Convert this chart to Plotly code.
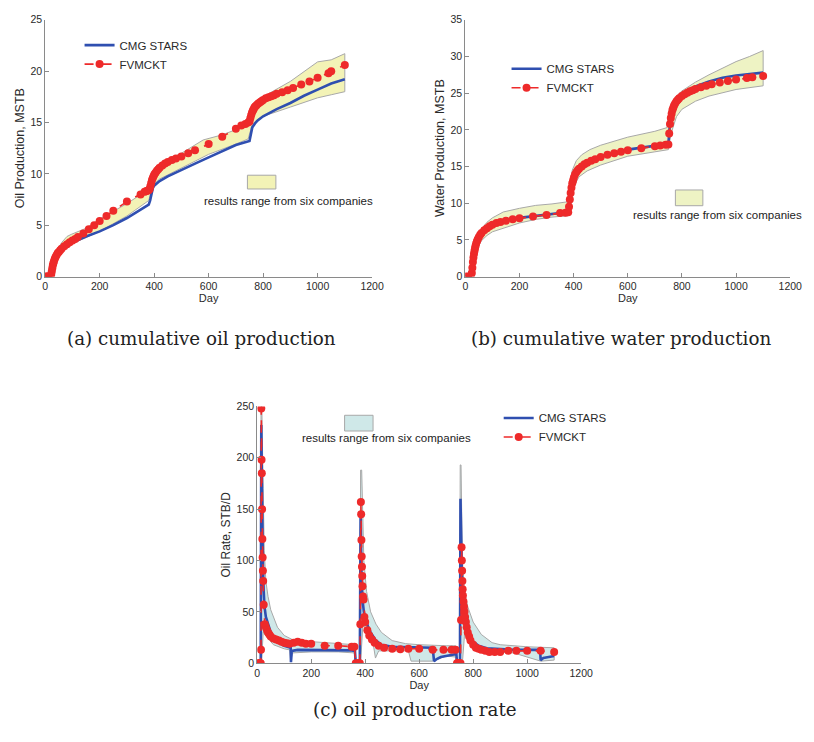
import plotly.graph_objects as go

W, H = 814, 742

# ---------------- (a) cumulative oil production (MSTB) ----------------
a_fv_day = [0, 5, 10, 15, 20, 22, 24, 26, 28, 30, 32, 35, 38, 42, 46, 50, 55, 60, 70, 80, 90, 100,
            110, 120, 140, 160, 180, 200, 225, 250, 300, 350, 365, 370, 375, 380, 383, 386, 389,
            392, 395, 398, 401, 405, 410, 415, 420, 430, 440, 450, 465, 480, 500, 525, 550, 600,
            650, 700, 720, 735, 745, 750, 753, 756, 759, 762, 765, 768, 771, 775, 780, 785, 790,
            795, 800, 810, 820, 830, 840, 850, 870, 890, 910, 940, 970, 1000, 1040, 1050, 1100]
a_fv_val = [0, 0, 0, 0, 0, 0.2, 0.5, 0.8, 1.1, 1.3, 1.5, 1.7, 1.9, 2.1, 2.3, 2.4, 2.55, 2.7, 2.95,
            3.15, 3.35, 3.5, 3.65, 3.85, 4.2, 4.6, 5.0, 5.4, 5.9, 6.4, 7.3, 8.0, 8.25, 8.3, 8.35,
            8.4, 8.5, 8.8, 9.1, 9.4, 9.6, 9.8, 9.95, 10.1, 10.3, 10.45, 10.6, 10.8, 11.0, 11.15,
            11.35, 11.5, 11.7, 12.0, 12.3, 12.9, 13.6, 14.4, 14.7, 14.85, 15.0, 15.1, 15.4, 15.7,
            15.95, 16.15, 16.3, 16.45, 16.55, 16.65, 16.8, 16.9, 17.0, 17.1, 17.2, 17.35, 17.45,
            17.55, 17.65, 17.8, 17.95, 18.15, 18.35, 18.7, 19.0, 19.35, 19.8, 20.0, 20.6]
a_cmg_day = [0, 20, 25, 30, 40, 50, 60, 80, 100, 120, 150, 200, 250, 300, 350, 380, 385, 390, 395,
             400, 410, 420, 450, 500, 550, 600, 650, 700, 750, 755, 760, 770, 780, 800, 850, 900,
             950, 1000, 1050, 1100]
a_cmg_val = [0, 0, 0.6, 1.2, 1.8, 2.2, 2.5, 2.95, 3.3, 3.55, 3.9, 4.4, 5.0, 5.7, 6.5, 7.0, 7.4, 8.2,
             8.6, 8.85, 9.1, 9.3, 9.75, 10.4, 11.0, 11.6, 12.2, 12.8, 13.2, 13.9, 14.5, 14.9, 15.2,
             15.6, 16.3, 16.9, 17.6, 18.2, 18.8, 19.2]
a_hi_day = [0, 20, 30, 40, 60, 80, 95, 150, 200, 300, 380, 390, 400, 420, 450, 500, 580, 650, 700,
            750, 760, 780, 800, 900, 1000, 1050, 1100]
a_hi_val = [0, 0, 1.6, 2.4, 3.3, 3.9, 4.1, 4.7, 5.6, 7.1, 8.5, 9.5, 10.2, 10.9, 11.4, 12.0, 13.3,
            13.8, 14.3, 15.0, 16.2, 17.0, 17.5, 19.0, 20.9, 21.1, 21.7]
a_lo_day = [0, 20, 30, 40, 60, 80, 100, 150, 200, 300, 380, 390, 400, 420, 500, 600, 700, 745, 760,
            780, 800, 900, 1000, 1050, 1100]
a_lo_val = [0, 0, 0.9, 1.6, 2.3, 2.8, 3.2, 3.8, 4.4, 5.9, 7.4, 8.4, 9.0, 9.5, 10.6, 11.9, 12.9, 13.4,
            14.8, 15.3, 15.6, 16.5, 17.4, 17.7, 18.0]

# ---------------- (b) cumulative water production (MSTB) ----------------
b_fv_day = [0, 10, 20, 24, 26, 28, 30, 32, 34, 36, 38, 40, 43, 46, 50, 55, 60, 70, 80, 90, 100, 115,
            130, 150, 175, 200, 250, 300, 350, 370, 380, 383, 386, 389, 392, 395, 398, 401, 405,
            410, 415, 420, 430, 440, 450, 465, 480, 500, 525, 550, 575, 600, 650, 700, 720, 740,
            750, 753, 756, 759, 762, 765, 768, 771, 775, 780, 785, 790, 800, 810, 820, 830, 840,
            850, 870, 890, 910, 940, 970, 1000, 1040, 1060, 1100]
b_fv_val = [0, 0, 0, 0.5, 1.2, 2.0, 2.6, 3.1, 3.5, 3.9, 4.2, 4.5, 4.8, 5.1, 5.4, 5.7, 5.95, 6.3, 6.6,
            6.85, 7.05, 7.3, 7.45, 7.6, 7.8, 7.95, 8.2, 8.4, 8.65, 8.7, 8.75, 9.5, 10.5, 11.4, 12.1,
            12.7, 13.1, 13.5, 13.9, 14.2, 14.5, 14.7, 15.0, 15.3, 15.5, 15.8, 16.0, 16.3, 16.6,
            16.8, 17.0, 17.2, 17.5, 17.75, 17.85, 17.95, 18.0, 19.5, 20.8, 21.6, 22.2, 22.7, 23.0,
            23.3, 23.6, 23.9, 24.1, 24.3, 24.6, 24.85, 25.05, 25.25, 25.4, 25.55, 25.8, 26.0, 26.2,
            26.45, 26.65, 26.85, 27.05, 27.15, 27.35]
b_cmg_day = [0, 20, 25, 30, 35, 40, 50, 60, 80, 100, 150, 200, 300, 380, 385, 390, 400, 420, 450,
             500, 600, 700, 750, 755, 760, 770, 780, 800, 850, 900, 950, 1000, 1050, 1100]
b_cmg_val = [0, 0, 1.0, 2.8, 3.9, 4.6, 5.4, 5.95, 6.6, 7.05, 7.65, 8.0, 8.45, 8.8, 10.0, 11.5, 13.5,
             14.8, 15.6, 16.4, 17.3, 17.9, 18.1, 20.5, 21.8, 23.0, 23.9, 24.8, 25.9, 26.6, 27.1,
             27.4, 27.65, 27.8]
b_hi_day = [0, 20, 30, 40, 60, 80, 100, 140, 200, 260, 320, 380, 385, 395, 410, 430, 460, 500, 600,
            700, 745, 752, 760, 780, 800, 850, 900, 1000, 1050, 1100]
b_hi_val = [0, 0, 3.5, 5.3, 6.5, 7.4, 8.0, 8.8, 9.3, 9.7, 9.9, 10.2, 12.0, 14.5, 15.8, 16.6, 17.3,
            17.9, 19.0, 19.8, 20.3, 22.5, 23.5, 24.6, 25.3, 26.5, 27.5, 29.3, 30.0, 30.8]
b_lo_day = [0, 20, 30, 40, 60, 80, 100, 140, 200, 262, 320, 380, 390, 400, 420, 450, 500, 600, 700,
            750, 760, 780, 800, 850, 900, 1000, 1050, 1100]
b_lo_val = [0, 0, 1.5, 3.6, 4.9, 5.6, 6.1, 6.6, 7.3, 7.8, 8.1, 8.3, 9.5, 12.2, 13.6, 14.4, 15.2,
            16.4, 17.0, 17.3, 19.5, 21.8, 22.8, 23.9, 24.6, 25.5, 25.8, 26.0]

# ---------------- (c) oil production rate (STB/D) ----------------
c_fv_day = [0, 5, 10, 13, 14, 15, 16, 17, 18, 19, 20, 21, 22, 24, 28, 32, 36, 40, 45, 50, 60, 70, 80,
            90, 100, 110, 120, 135, 150, 165, 180, 200, 250, 300, 350, 360, 365, 370, 375, 380,
            382, 384, 385, 386, 387, 388, 389, 390, 392, 394, 397, 400, 408, 415, 425, 435, 450,
            470, 500, 530, 560, 600, 650, 690, 720, 735, 740, 745, 750, 753, 755, 757, 758, 759,
            760, 761, 762, 764, 766, 768, 770, 773, 776, 780, 785, 790, 800, 810, 820, 830, 845,
            860, 880, 900, 930, 960, 1000, 1050, 1100]
c_fv_val = [0, 0, 0, 0, 13, 248, 198, 185, 150, 121, 103, 90, 80, 57, 38, 35, 32, 30, 28, 26, 24, 23,
            22, 21, 20, 19.5, 19, 20, 21, 20, 19, 19, 17, 17, 16, 16, 0, 0, 0, 0, 38, 157, 145, 120,
            104, 94, 85, 75, 65, 62, 45, 40, 32, 27, 23, 20, 17, 15, 14, 13.5, 14, 14, 13, 13, 13,
            13, 0, 0, 0, 0, 42, 113, 100, 90, 80, 72, 66, 60, 55, 50, 45, 40, 35, 30, 26, 22, 18,
            15, 14, 13, 12, 11, 11, 11, 12, 12, 12, 12, 11]
c_cmg_day = [0, 13, 15, 18, 21, 24, 27, 32, 40, 50, 60, 80, 100, 124, 125, 128, 150, 200, 250, 300,
             350, 362, 365, 380, 383, 386, 390, 395, 400, 410, 420, 440, 460, 500, 550, 600, 650,
             655, 665, 680, 700, 720, 738, 740, 751, 753, 756, 760, 768, 780, 790, 800, 820, 850,
             900, 950, 1000, 1048, 1050, 1060, 1080, 1100]
c_cmg_val = [0, 0, 232, 150, 95, 70, 55, 45, 38, 30, 25, 20, 17, 15, 1, 12, 13, 13, 13, 13, 12.5, 12,
             0, 0, 145, 90, 62, 50, 44, 36, 30, 22, 18, 16, 15.5, 15.5, 15, 2, 4, 6, 7, 8, 9, 0, 0,
             160, 90, 60, 42, 33, 26, 21, 17, 14.5, 13.5, 13, 13, 13, 3, 5, 6, 7]
c_hi_day = [0, 13, 14, 17, 22, 26, 32, 40, 50, 60, 75, 100, 130, 200, 300, 360, 364, 380, 383, 387,
            395, 405, 420, 440, 460, 500, 550, 600, 700, 735, 738, 750, 752, 755, 760, 768, 780,
            800, 830, 870, 900, 1000, 1100]
c_hi_val = [0, 0, 250, 250, 170, 110, 80, 65, 52, 45, 35, 27, 23, 21, 19, 18, 0, 0, 188, 188, 100,
            70, 50, 38, 30, 22, 19, 18, 17, 17, 0, 0, 193, 193, 100, 70, 55, 40, 28, 20, 18, 16, 15]
c_lo_day = [0, 13, 16, 22, 30, 40, 60, 80, 100, 120, 124, 130, 200, 300, 360, 364, 383, 392, 410, 430,
            438, 450, 500, 560, 570, 650, 700, 735, 740, 752, 760, 770, 780, 800, 850, 950, 1000,
            1050, 1100]
c_lo_val = [0, 0, 0, 30, 28, 24, 18, 16, 14, 13, 2, 10, 11, 11, 10, 0, 0, 40, 26, 18, 5, 12, 12, 12,
            2, 2, 7, 6, 0, 0, 0, 35, 25, 17, 11, 10, 6, 2, 3]

# ---------------- text ----------------
name_cmg = "CMG STARS"
name_fv = "FVMCKT"
band_label = "results range from six companies"
captions = ["(a) cumulative oil production", "(b) cumulative water production", "(c) oil production rate"]
ytitles = ["Oil Production, MSTB", "Water Production, MSTB", "Oil Rate, STB/D"]
xtitle = "Day"
yranges = [(0, 25, 5), (0, 35, 5), (0, 250, 50)]

BLUE = "#2f4fb0"
RED = "#ee2a2a"
BAND_EDGE = "#a8a8a8"
FONT = "Liberation Sans"
SERIF = "DejaVu Serif"
TXT = "#2a2a2a"


def px2x(p):
    return p / W


def px2y(p):
    return 1 - p / H


fig = go.Figure()

panels = [
    dict(fv=(a_fv_day, a_fv_val), cmg=(a_cmg_day, a_cmg_val), hi=(a_hi_day, a_hi_val),
         lo=(a_lo_day, a_lo_val), fill="#f3f3b6"),
    dict(fv=(b_fv_day, b_fv_val), cmg=(b_cmg_day, b_cmg_val), hi=(b_hi_day, b_hi_val),
         lo=(b_lo_day, b_lo_val), fill="#eef3c4"),
    dict(fv=(c_fv_day, c_fv_val), cmg=(c_cmg_day, c_cmg_val), hi=(c_hi_day, c_hi_val),
         lo=(c_lo_day, c_lo_val), fill="#cfe8e8"),
]

# plot areas in pixels: (left, right, top, bottom)
areas = [(43, 376, 14, 275), (471, 802, 14, 275), (259, 589, 407, 668)]
legend_pos = [(78, 25), (513, 49), (505, 404)]
swatch = [(249, 278, 172, 186), (685, 713, 187, 203), (348, 377, 416, 432)]
band_text_pos = [(291, 198), (728, 212), (391, 439)]
caption_pos = [(202, 338), (630, 338), (420, 715)]
ytitle_size = [12.5, 12.5, 12]

for i, p in enumerate(panels):
    sfx = "" if i == 0 else str(i + 1)
    xa, ya = "x" + sfx, "y" + sfx
    lg = "legend" if i == 0 else "legend" + str(i + 1)
    hx, hy = p["hi"]
    lx, ly = p["lo"]
    fig.add_trace(go.Scatter(x=list(hx) + list(lx)[::-1], y=list(hy) + list(ly)[::-1],
                             fill="toself", fillcolor=p["fill"], mode="lines",
                             line=dict(color=BAND_EDGE, width=1), showlegend=False,
                             xaxis=xa, yaxis=ya, hoverinfo="skip"))
    fig.add_trace(go.Scatter(x=p["cmg"][0], y=p["cmg"][1], mode="lines", name=name_cmg,
                             line=dict(color=BLUE, width=2.6), xaxis=xa, yaxis=ya, legend=lg))
    fig.add_trace(go.Scatter(x=p["fv"][0], y=p["fv"][1], mode="lines+markers", name=name_fv,
                             line=dict(color=RED, width=1.6, dash="dash"),
                             marker=dict(color=RED, size=8, line=dict(width=0)),
                             xaxis=xa, yaxis=ya, legend=lg))

    l, r, t, b = areas[i]
    y0, y1, dy = yranges[i]
    axis_common = dict(showline=True, linecolor="#8a8a8a", linewidth=1, ticks="inside",
                       ticklen=4, tickcolor="#8a8a8a", showgrid=False, zeroline=False,
                       tickfont=dict(family=FONT, size=10.5, color=TXT))
    fig.layout["xaxis" + sfx] = dict(domain=[px2x(l), px2x(r)], range=[0, 1200], dtick=200,
                                     anchor=ya, title=dict(text=xtitle, standoff=1,
                                                           font=dict(family=FONT, size=11, color=TXT)),
                                     **axis_common)
    fig.layout["yaxis" + sfx] = dict(domain=[px2y(b), px2y(t)], range=[y0, y1], dtick=dy,
                                     anchor=xa, title=dict(text=ytitles[i], standoff=3,
                                                           font=dict(family=FONT, size=ytitle_size[i],
                                                                     color=TXT)),
                                     **axis_common)
    lxp, lyp = legend_pos[i]
    fig.layout[lg] = dict(x=px2x(lxp), y=px2y(lyp), xanchor="left", yanchor="top",
                          bgcolor="rgba(0,0,0,0)", borderwidth=0, tracegroupgap=0,
                          font=dict(family=FONT, size=11.5, color=TXT), itemwidth=30)
    sx0, sx1, sy0, sy1 = swatch[i]
    fig.add_shape(type="rect", xref="paper", yref="paper", x0=px2x(sx0), x1=px2x(sx1),
                  y0=px2y(sy1), y1=px2y(sy0), fillcolor=p["fill"],
                  line=dict(color=BAND_EDGE, width=1))
    tx, ty = band_text_pos[i]
    fig.add_annotation(text=band_label, xref="paper", yref="paper", x=px2x(tx), y=px2y(ty),
                       showarrow=False, xanchor="center", yanchor="middle",
                       font=dict(family=FONT, size=11.5, color="#222222"))
    cx, cy = caption_pos[i]
    fig.add_annotation(text=captions[i], xref="paper", yref="paper", x=px2x(cx), y=px2y(cy),
                       showarrow=False, xanchor="center", yanchor="middle",
                       font=dict(family=SERIF, size=18.3, color="#222222"))

fig.update_layout(width=W, height=H, margin=dict(l=0, r=0, t=0, b=0),
                  paper_bgcolor="white", plot_bgcolor="white", showlegend=True)

fig.write_html("out.html", post_script="document.body.style.margin='0';",
               config={"displayModeBar": False})
